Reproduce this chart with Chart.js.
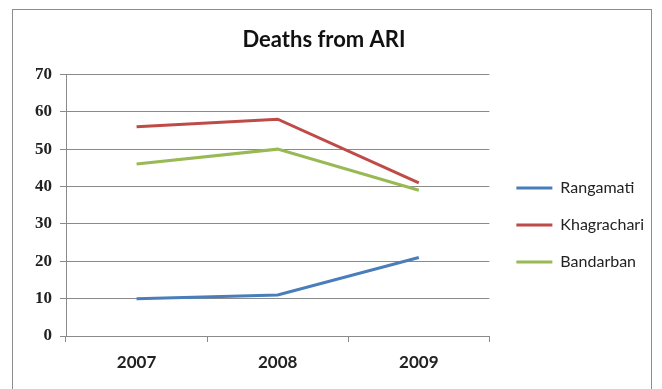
<!DOCTYPE html>
<html>
<head>
<meta charset="utf-8">
<script src="https://cdn.jsdelivr.net/npm/chart.js@4"></script>
<style>
  html, body { margin: 0; background: #fff; }
  #frame { position: absolute; left: 12px; top: 9px; width: 638px; height: 400px; border: 1px solid #8c8c8c; }
  #wrap { position: absolute; left: 0; top: 0; width: 662px; height: 389px; }
</style>
</head>
<body>
<div id="frame"></div>
<div id="wrap"><canvas id="grafico"></canvas></div>
<script>
// --- Dados ---
const years = ['2007', '2008', '2009'];
const rangamati = [10, 11, 21];
const khagrachari = [56, 58, 41];
const bandarban = [46, 50, 39];
const yTicks = [0, 10, 20, 30, 40, 50, 60, 70];

const gridColor = '#8a8a8a';

// desloca a legenda um pouco (posição igual à do original)
const shiftLegend = {
  id: 'shiftLegend',
  afterLayout(chart) {
    const lg = chart.legend;
    if (!lg) return;
    lg.left += 6; lg.right += 6;
    lg.top += 12; lg.bottom += 12;
  }
};

const ctx = document.getElementById('grafico').getContext('2d');
new Chart(ctx, {
  type: 'line',
  data: {
    labels: years,
    datasets: [
      { label: 'Rangamati', data: rangamati, borderColor: '#4a7ebb', backgroundColor: '#4a7ebb', borderWidth: 3 },
      { label: 'Khagrachari', data: khagrachari, borderColor: '#be4b48', backgroundColor: '#be4b48', borderWidth: 3 },
      { label: 'Bandarban', data: bandarban, borderColor: '#98b954', backgroundColor: '#98b954', borderWidth: 3 }
    ]
  },
  options: {
    responsive: true,
    maintainAspectRatio: false,
    animation: false,
    elements: {
      line: { tension: 0 },
      point: { radius: 0, hoverRadius: 0 }
    },
    layout: { padding: { left: 0, right: 14, top: 0, bottom: 0 } },
    scales: {
      x: {
        offset: true,
        grid: { display: true, offset: true, drawOnChartArea: false, drawTicks: true, tickLength: 6, color: gridColor },
        border: { display: true, color: gridColor },
        ticks: { padding: 10, color: '#222', font: { family: 'Lato', size: 17, weight: 'bold' } },
        afterFit: (s) => { s.height = 53; }
      },
      y: {
        min: 0,
        max: 70,
        afterBuildTicks: (s) => { s.ticks = yTicks.map(v => ({ value: v })); },
        grid: { color: gridColor, tickLength: 6 },
        border: { display: true, color: gridColor },
        ticks: { padding: 8, color: '#222', font: { family: 'Liberation Serif', size: 17, weight: 'bold' } },
        afterFit: (s) => { s.width = 66; }
      }
    },
    plugins: {
      title: {
        display: true,
        text: 'Deaths from ARI',
        color: '#111',
        font: { family: 'Lato', size: 22, weight: 'bold' },
        padding: { top: 27, bottom: 21 }
      },
      legend: {
        position: 'right',
        title: { display: true, text: '', padding: 10, font: { size: 14 } },
        labels: {
          usePointStyle: true,
          pointStyle: 'line',
          pointStyleWidth: 36,
          padding: 21,
          color: '#222',
          font: { family: 'Lato', size: 16 }
        }
      },
      tooltip: { enabled: false }
    }
  },
  plugins: [shiftLegend]
});
</script>
</body>
</html>
